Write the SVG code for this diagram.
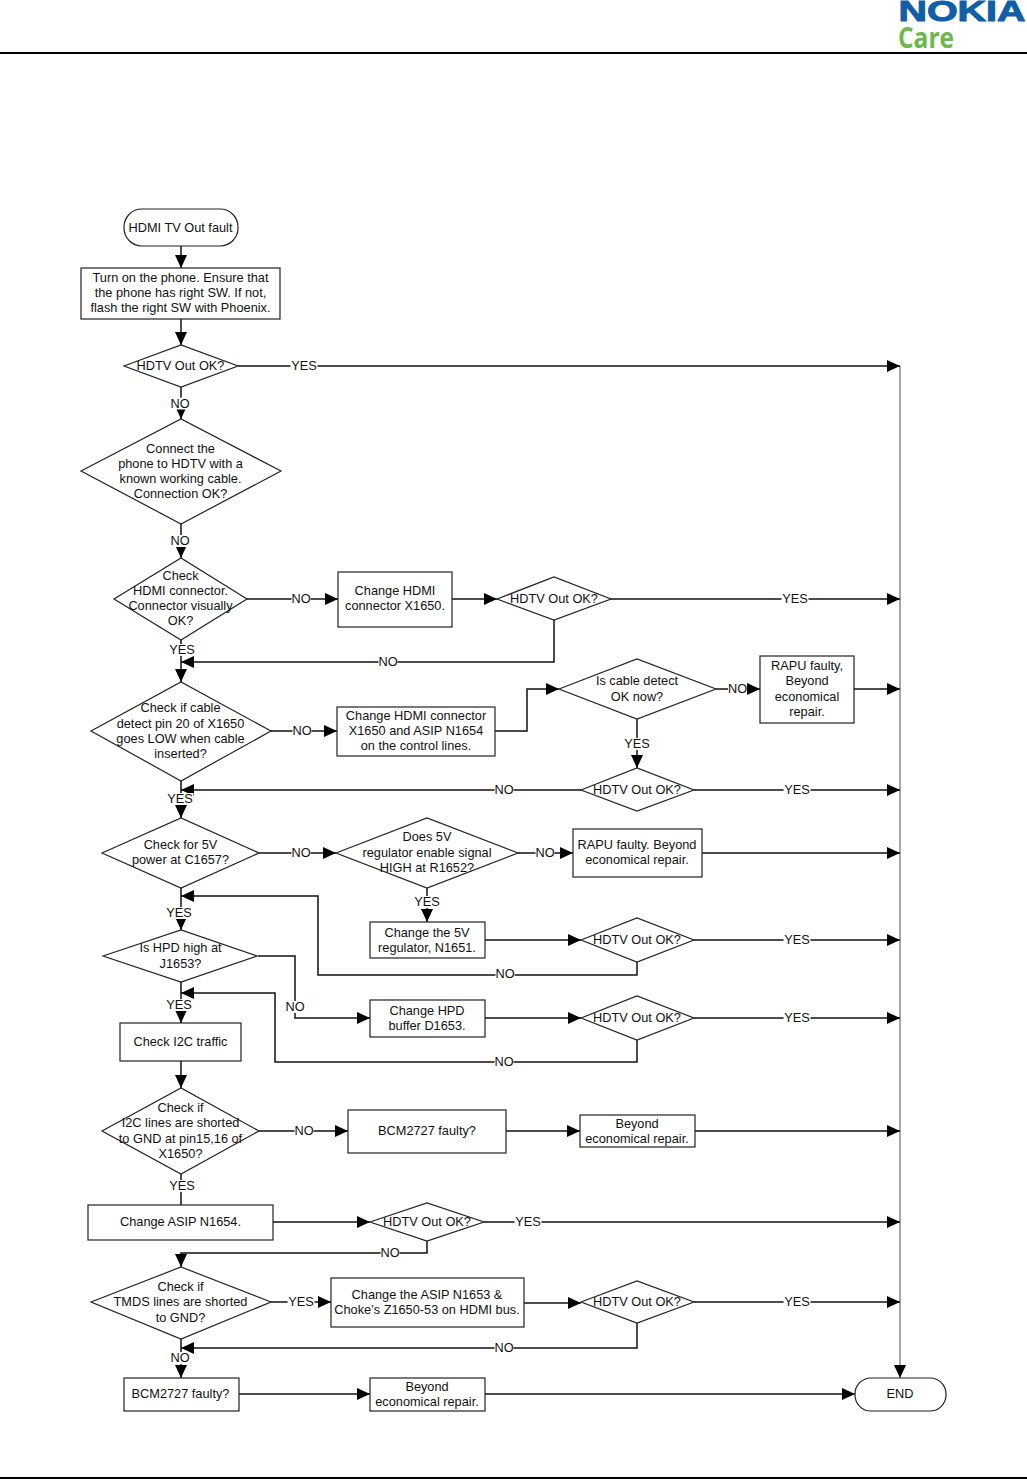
<svg xmlns="http://www.w3.org/2000/svg" width="1027" height="1479" viewBox="0 0 1027 1479">
<style>
text{font-family:"Liberation Sans",Arial,sans-serif;font-size:12.75px;fill:#111;text-anchor:middle}
.s{fill:#fff;stroke:#222;stroke-width:1.2}
.c{fill:none;stroke:#111;stroke-width:1.5;marker-end:url(#a)}
.n{fill:none;stroke:#111;stroke-width:1.5}
</style>
<defs><marker id="a" markerUnits="userSpaceOnUse" markerWidth="13" markerHeight="12" refX="13" refY="6" orient="auto"><path d="M0 0L13 6L0 12Z" fill="#000"/></marker>
<rect id="nb" x="-9.500" y="-10" width="19" height="12" fill="#fff"/>
<rect id="yb" x="-13.500" y="-10" width="27" height="12" fill="#fff"/></defs>
<g id="header">
<text x="962" y="21" textLength="127" lengthAdjust="spacingAndGlyphs" style="font-size:29px;font-weight:bold;fill:#0f5fa8;stroke:#0f5fa8;stroke-width:1px">NOKIA</text>
<text x="926" y="48" textLength="56" lengthAdjust="spacingAndGlyphs" style="font-size:29px;font-weight:bold;fill:#6cb84a;font-family:'Open Sans',sans-serif">Care</text>
<rect x="0" y="52" width="1027" height="2" fill="#000"/>
<rect x="0" y="1477" width="1027" height="2" fill="#000"/>
</g>
<g id="connectors">
<path d="M900 366V1378" fill="none" stroke="#888" stroke-width="1.5" style="marker-end:url(#a)"/>
<path class="c" d="M181 246V268"/><path class="c" d="M181 319V345"/>
<path class="c" d="M238 366H900"/>
<path class="c" d="M181 387V419"/><path class="c" d="M181 524V558"/>
<path class="c" d="M247 599H338"/><path class="c" d="M452 599H497"/><path class="c" d="M611 599H900"/>
<path class="c" d="M554 620V662H181"/>
<path class="c" d="M181 640V682"/><path class="c" d="M271 731H337"/>
<path class="c" d="M495 731H527V689H559"/><path class="c" d="M716 689H760"/><path class="c" d="M854 689H900"/>
<path class="c" d="M637 719V768"/><path class="c" d="M694 790H900"/><path class="c" d="M581 790H181"/>
<path class="c" d="M181 781V818"/><path class="c" d="M259 853H336"/><path class="c" d="M518 853H573"/><path class="c" d="M702 853H900"/>
<path class="c" d="M427 888V922"/><path class="c" d="M485 940H581"/><path class="c" d="M694 940H900"/>
<path class="c" d="M637 962V975H318V896H181"/>
<path class="c" d="M181 888V930"/>
<path class="c" d="M258 956H295V1018H370"/><path class="c" d="M485 1018H581"/><path class="c" d="M694 1018H900"/>
<path class="c" d="M637 1040V1062H275V993H181"/>
<path class="c" d="M181 982V1023"/><path class="c" d="M181 1061V1088"/>
<path class="c" d="M259 1131H348"/><path class="c" d="M506 1131H580"/><path class="c" d="M695 1131H900"/>
<path class="n" d="M181 1174V1205"/>
<path class="c" d="M273 1222H370"/><path class="c" d="M484 1222H900"/>
<path class="c" d="M427 1241V1253H181V1267"/>
<path class="c" d="M271 1302H331"/><path class="c" d="M524 1303H581"/><path class="c" d="M694 1302H900"/>
<path class="c" d="M637 1323V1348H181"/>
<path class="c" d="M181 1339V1378"/>
<path class="c" d="M239 1394H370"/><path class="c" d="M485 1394H855"/>
</g>
<g id="labels">
<use href="#yb" x="304" y="370"/><text x="304" y="370">YES</text>
<use href="#nb" x="180" y="407.500"/><text x="180" y="407.500">NO</text>
<use href="#nb" x="180" y="545"/><text x="180" y="545">NO</text>
<use href="#nb" x="301" y="603"/><text x="301" y="603">NO</text>
<use href="#yb" x="795" y="603"/><text x="795" y="603">YES</text>
<use href="#nb" x="388" y="666"/><text x="388" y="666">NO</text>
<use href="#yb" x="182" y="654"/><text x="182" y="654">YES</text>
<use href="#nb" x="302" y="735"/><text x="302" y="735">NO</text>
<use href="#nb" x="737.500" y="693"/><text x="737.500" y="693">NO</text>
<use href="#yb" x="637" y="748"/><text x="637" y="748">YES</text>
<use href="#nb" x="504" y="794"/><text x="504" y="794">NO</text>
<use href="#yb" x="797" y="794"/><text x="797" y="794">YES</text>
<use href="#yb" x="180" y="803"/><text x="180" y="803">YES</text>
<use href="#nb" x="301" y="857"/><text x="301" y="857">NO</text>
<use href="#nb" x="545" y="857"/><text x="545" y="857">NO</text>
<use href="#yb" x="427" y="906"/><text x="427" y="906">YES</text>
<use href="#yb" x="179" y="917"/><text x="179" y="917">YES</text>
<use href="#yb" x="797" y="944"/><text x="797" y="944">YES</text>
<use href="#nb" x="505" y="978"/><text x="505" y="978">NO</text>
<use href="#nb" x="295" y="1011"/><text x="295" y="1011">NO</text>
<use href="#yb" x="179" y="1009"/><text x="179" y="1009">YES</text>
<use href="#yb" x="797" y="1022"/><text x="797" y="1022">YES</text>
<use href="#nb" x="504" y="1066"/><text x="504" y="1066">NO</text>
<use href="#nb" x="304" y="1135"/><text x="304" y="1135">NO</text>
<use href="#yb" x="182" y="1190"/><text x="182" y="1190">YES</text>
<use href="#yb" x="528" y="1226"/><text x="528" y="1226">YES</text>
<use href="#nb" x="390" y="1257"/><text x="390" y="1257">NO</text>
<use href="#yb" x="301" y="1306"/><text x="301" y="1306">YES</text>
<use href="#yb" x="797" y="1306"/><text x="797" y="1306">YES</text>
<use href="#nb" x="504" y="1352"/><text x="504" y="1352">NO</text>
<use href="#nb" x="180" y="1362"/><text x="180" y="1362">NO</text>
</g>
<g id="start"><rect class="s" x="124" y="209" width="114" height="37" rx="18" ry="18"/><text x="180.5" y="232">HDMI TV Out fault</text></g>
<g id="turn-on"><rect class="s" x="81" y="268" width="199" height="51"/><text x="180.5" y="282">Turn on the phone. Ensure that</text><text x="180.5" y="297">the phone has right SW. If not,</text><text x="180.5" y="312">flash the right SW with Phoenix.</text></g>
<g id="d1"><path class="s" d="M124 366L181 345L238 366L181 387Z"/><text x="180.5" y="370">HDTV Out OK?</text></g>
<g id="d2"><path class="s" d="M81 471L181 419L281 471L181 524Z"/><text x="180.5" y="453">Connect the</text><text x="180.5" y="468">phone to HDTV with a</text><text x="180.5" y="483">known working cable.</text><text x="180.5" y="498">Connection OK?</text></g>
<g id="d3"><path class="s" d="M114 599L181 558L247 599L181 640Z"/><text x="180.5" y="580">Check</text><text x="180.5" y="595">HDMI connector.</text><text x="180.5" y="610">Connector visually</text><text x="180.5" y="625">OK?</text></g>
<g id="change-hdmi"><rect class="s" x="338" y="572" width="114" height="55"/><text x="395" y="595">Change HDMI</text><text x="395" y="610">connector X1650.</text></g>
<g id="d4"><path class="s" d="M497 599L554 577L611 599L554 620Z"/><text x="554" y="603">HDTV Out OK?</text></g>
<g id="d5"><path class="s" d="M91 731L181 682L271 731L181 781Z"/><text x="180.5" y="712">Check if cable</text><text x="180.5" y="728">detect pin 20 of X1650</text><text x="180.5" y="743">goes LOW when cable</text><text x="180.5" y="758">inserted?</text></g>
<g id="change-asip"><rect class="s" x="337" y="707" width="158" height="49"/><text x="416" y="720">Change HDMI connector</text><text x="416" y="735">X1650 and ASIP N1654</text><text x="416" y="750">on the control lines.</text></g>
<g id="d6"><path class="s" d="M559 689L637 659L716 689L637 719Z"/><text x="637" y="685">Is cable detect</text><text x="637" y="701">OK now?</text></g>
<g id="rapu1"><rect class="s" x="760" y="656" width="94" height="67"/><text x="807" y="670">RAPU faulty,</text><text x="807" y="685">Beyond</text><text x="807" y="701">economical</text><text x="807" y="716">repair.</text></g>
<g id="d7"><path class="s" d="M581 790L637 768L694 790L637 811Z"/><text x="637" y="794">HDTV Out OK?</text></g>
<g id="d8"><path class="s" d="M102 853L181 818L259 853L181 888Z"/><text x="180.5" y="849">Check for 5V</text><text x="180.5" y="864">power at C1657?</text></g>
<g id="d9"><path class="s" d="M336 853L427 818L518 853L427 888Z"/><text x="427" y="841">Does 5V</text><text x="427" y="857">regulator enable signal</text><text x="427" y="872">HIGH at R1652?</text></g>
<g id="rapu2"><rect class="s" x="573" y="829" width="129" height="48"/><text x="637" y="849">RAPU faulty. Beyond</text><text x="637" y="864">economical repair.</text></g>
<g id="change-5v"><rect class="s" x="370" y="922" width="115" height="36"/><text x="427" y="937">Change the 5V</text><text x="427" y="952">regulator, N1651.</text></g>
<g id="d10"><path class="s" d="M581 940L637 918L694 940L637 962Z"/><text x="637" y="944">HDTV Out OK?</text></g>
<g id="d11"><path class="s" d="M103 956L181 930L257 956L181 982Z"/><text x="180.5" y="952">Is HPD high at</text><text x="180.5" y="968">J1653?</text></g>
<g id="hpd-buffer"><rect class="s" x="370" y="1000" width="115" height="37"/><text x="427" y="1015">Change HPD</text><text x="427" y="1030">buffer D1653.</text></g>
<g id="d12"><path class="s" d="M581 1018L637 996L694 1018L637 1040Z"/><text x="637" y="1022">HDTV Out OK?</text></g>
<g id="i2c"><rect class="s" x="120" y="1023" width="121" height="38"/><text x="180.5" y="1046">Check I2C traffic</text></g>
<g id="d13"><path class="s" d="M102 1131L181 1088L259 1131L181 1174Z"/><text x="180.5" y="1112">Check if</text><text x="180.5" y="1127">I2C lines are shorted</text><text x="180.5" y="1143">to GND at pin15,16 of</text><text x="180.5" y="1158">X1650?</text></g>
<g id="bcm1"><rect class="s" x="348" y="1110" width="158" height="43"/><text x="427" y="1135">BCM2727 faulty?</text></g>
<g id="beyond1"><rect class="s" x="580" y="1115" width="115" height="32"/><text x="637" y="1128">Beyond</text><text x="637" y="1143">economical repair.</text></g>
<g id="asip"><rect class="s" x="88" y="1205" width="185" height="35"/><text x="180.5" y="1226">Change ASIP N1654.</text></g>
<g id="d14"><path class="s" d="M370 1222L427 1203L484 1222L427 1241Z"/><text x="427" y="1226">HDTV Out OK?</text></g>
<g id="d15"><path class="s" d="M91 1302L181 1267L271 1302L181 1339Z"/><text x="180.5" y="1291">Check if</text><text x="180.5" y="1306">TMDS lines are shorted</text><text x="180.5" y="1322">to GND?</text></g>
<g id="asip2"><rect class="s" x="331" y="1278" width="193" height="49"/><text x="427" y="1299">Change the ASIP N1653 &amp;</text><text x="427" y="1314">Choke’s Z1650-53 on HDMI bus.</text></g>
<g id="d16"><path class="s" d="M581 1302L637 1281L694 1302L637 1323Z"/><text x="637" y="1306">HDTV Out OK?</text></g>
<g id="bcm2"><rect class="s" x="124" y="1378" width="115" height="33"/><text x="180.5" y="1398">BCM2727 faulty?</text></g>
<g id="beyond2"><rect class="s" x="370" y="1378" width="115" height="33"/><text x="427" y="1391">Beyond</text><text x="427" y="1406">economical repair.</text></g>
<g id="end"><rect class="s" x="855" y="1378" width="91" height="33" rx="16" ry="16"/><text x="900" y="1398">END</text></g>
</svg>
